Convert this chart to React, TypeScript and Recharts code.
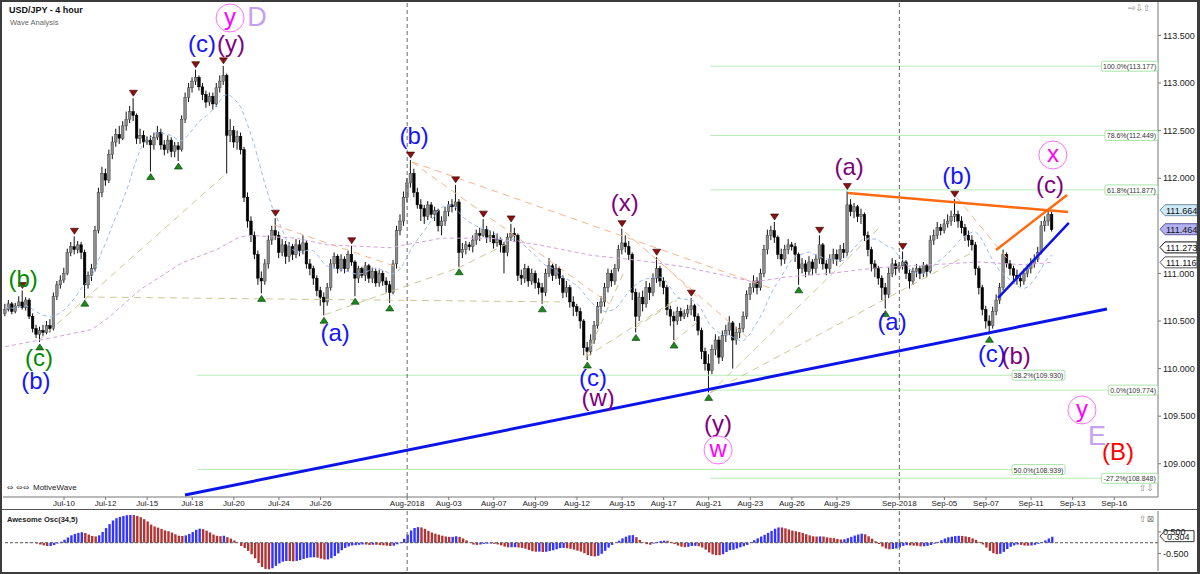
import React from "react";
import {
  ComposedChart, Bar, Line, XAxis, YAxis, ReferenceLine, ReferenceDot, Cell,
} from "recharts";

const FONT = "'Liberation Sans', Arial, sans-serif";

// USD/JPY 4h candles, Jul 5 2018 .. Sep 12 2018 (open of first bar, then close/high/low per bar)
const FIRST_OPEN = 110.58;
const CLOSE = [
  110.62, 110.68, 110.60, 110.66, 110.70, 110.64, 110.72, 110.55, 110.42, 110.36,
  110.40, 110.38, 110.45, 110.42, 110.76, 110.88, 110.93, 111.00, 111.22, 111.28,
  111.25, 111.30, 111.22, 110.88, 110.98, 111.05, 111.45, 111.85, 112.05, 111.98,
  112.25, 112.38, 112.46, 112.42, 112.55, 112.62, 112.70, 112.66, 112.42, 112.45,
  112.38, 112.40, 112.35, 112.43, 112.48, 112.35, 112.30, 112.40, 112.28, 112.34,
  112.30, 112.62, 112.85, 112.95, 113.02, 113.06, 112.96, 112.88, 112.80, 112.86,
  112.78, 112.95, 113.02, 113.08, 112.45, 112.50, 112.38, 112.44, 112.30, 111.80,
  111.55, 111.40, 111.20, 110.95, 110.92, 111.10, 111.35, 111.45, 111.40, 111.22,
  111.30, 111.18, 111.28, 111.20, 111.30, 111.24, 111.32, 111.10, 111.05, 110.95,
  110.82, 110.75, 110.70, 110.85, 111.10, 111.18, 111.05, 111.15, 111.05, 111.20,
  111.12, 110.95, 111.05, 110.98, 111.08, 110.95, 111.02, 110.90, 111.00, 110.92,
  110.88, 110.80, 111.10, 111.45, 111.55, 111.80, 111.95, 112.05, 111.85, 111.72,
  111.68, 111.60, 111.72, 111.62, 111.66, 111.50, 111.55, 111.65, 111.72, 111.70,
  111.75, 111.22, 111.25, 111.30, 111.28, 111.35, 111.42, 111.40, 111.46, 111.38,
  111.40, 111.32, 111.36, 111.30, 111.22, 111.38, 111.42, 111.40, 110.98, 110.95,
  111.05, 110.92, 111.00, 110.90, 110.85, 110.80, 111.00, 111.08, 110.98, 111.05,
  110.95, 110.80, 110.85, 110.70, 110.65, 110.60, 110.50, 110.22, 110.18, 110.30,
  110.45, 110.65, 110.70, 110.85, 111.00, 110.92, 111.05, 111.25, 111.32, 111.28,
  111.20, 110.80, 110.55, 110.75, 110.68, 110.85, 110.80, 110.95, 111.05, 110.92,
  110.85, 110.62, 110.55, 110.50, 110.60, 110.55, 110.58, 110.62, 110.66, 110.55,
  110.40, 110.18, 110.05, 109.98, 110.20, 110.30, 110.12, 110.35, 110.40, 110.48,
  110.30, 110.38, 110.42, 110.55, 110.78, 110.85, 110.92, 110.85, 111.00, 111.25,
  111.40, 111.45, 111.38, 111.20, 111.15, 111.25, 111.30, 111.28, 111.20, 111.05,
  111.10, 111.02, 111.12, 111.05, 111.15, 111.30, 111.10, 111.05, 111.15, 111.20,
  111.15, 111.25, 111.22, 111.72, 111.65, 111.70, 111.60, 111.62, 111.40, 111.25,
  111.10, 111.05, 110.95, 110.85, 110.78, 111.00, 111.10, 111.05, 111.08, 111.12,
  111.00, 110.92, 111.02, 111.05, 111.00, 111.08, 111.02, 111.35, 111.40, 111.48,
  111.45, 111.52, 111.55, 111.60, 111.62, 111.55, 111.48, 111.40, 111.35, 111.30,
  111.05, 110.85, 110.62, 110.50, 110.45, 110.60, 110.72, 110.85, 111.20, 111.10,
  111.05, 110.98, 110.95, 110.92, 111.00, 111.05, 111.10, 111.15, 111.22, 111.50,
  111.55, 111.62, 111.46,
];
const HIGH = [
  110.68, 110.72, 110.70, 110.69, 110.76, 110.82, 110.75, 110.74, 110.58, 110.46,
  110.44, 110.46, 110.50, 110.52, 110.80, 110.92, 110.98, 111.06, 111.26, 111.33,
  111.39, 111.34, 111.33, 111.25, 111.02, 111.10, 111.50, 111.90, 112.12, 112.10,
  112.30, 112.44, 112.52, 112.55, 112.60, 112.70, 112.76, 112.84, 112.68, 112.52,
  112.50, 112.44, 112.45, 112.48, 112.55, 112.52, 112.40, 112.45, 112.43, 112.38,
  112.38, 112.66, 112.90, 113.00, 113.06, 113.14, 113.08, 113.00, 112.92, 112.90,
  112.90, 113.00, 113.08, 113.18, 113.10, 112.62, 112.55, 112.50, 112.48, 112.33,
  111.85, 111.60, 111.44, 111.24, 111.02, 111.15, 111.40, 111.50, 111.58, 111.44,
  111.36, 111.34, 111.33, 111.31, 111.36, 111.35, 111.40, 111.34, 111.15, 111.08,
  110.98, 110.86, 110.80, 110.90, 111.15, 111.22, 111.20, 111.20, 111.18, 111.24,
  111.29, 111.14, 111.08, 111.07, 111.12, 111.10, 111.06, 111.05, 111.04, 111.03,
  110.96, 110.92, 111.14, 111.50, 111.62, 111.86, 112.00, 112.19, 112.10, 111.90,
  111.78, 111.72, 111.76, 111.75, 111.70, 111.68, 111.60, 111.70, 111.76, 111.78,
  111.93, 111.78, 111.32, 111.34, 111.33, 111.40, 111.46, 111.48, 111.57, 111.50,
  111.45, 111.44, 111.42, 111.38, 111.33, 111.42, 111.52, 111.48, 111.42, 111.04,
  111.10, 111.08, 111.05, 111.03, 110.95, 110.90, 111.05, 111.16, 111.10, 111.10,
  111.07, 110.98, 110.92, 110.88, 110.76, 110.68, 110.64, 110.52, 110.28, 110.36,
  110.50, 110.70, 110.76, 110.90, 111.05, 111.04, 111.10, 111.30, 111.47, 111.40,
  111.34, 111.22, 110.84, 110.80, 110.82, 110.92, 110.90, 111.00, 111.17, 111.08,
  110.96, 110.88, 110.66, 110.60, 110.65, 110.64, 110.62, 110.67, 110.74, 110.68,
  110.58, 110.43, 110.22, 110.15, 110.25, 110.36, 110.34, 110.40, 110.46, 110.55,
  110.50, 110.44, 110.48, 110.60, 110.82, 110.90, 110.98, 110.96, 111.05, 111.30,
  111.46, 111.50, 111.54, 111.40, 111.26, 111.30, 111.36, 111.33, 111.32, 111.22,
  111.16, 111.14, 111.18, 111.15, 111.20, 111.40, 111.32, 111.14, 111.20, 111.26,
  111.25, 111.30, 111.32, 111.86, 111.78, 111.74, 111.72, 111.68, 111.64, 111.44,
  111.28, 111.14, 111.08, 110.98, 110.90, 111.06, 111.16, 111.14, 111.12, 111.23,
  111.14, 111.04, 111.06, 111.10, 111.08, 111.12, 111.10, 111.40, 111.46, 111.54,
  111.52, 111.57, 111.62, 111.66, 111.78, 111.66, 111.60, 111.52, 111.45, 111.40,
  111.33, 111.08, 110.88, 110.66, 110.56, 110.65, 110.78, 110.90, 111.25, 111.22,
  111.14, 111.08, 111.04, 111.00, 111.05, 111.10, 111.16, 111.20, 111.28, 111.55,
  111.60, 111.66, 111.65,
];
const LOW = [
  110.55, 110.60, 110.57, 110.58, 110.64, 110.62, 110.61, 110.52, 110.38, 110.32,
  110.28, 110.34, 110.36, 110.38, 110.40, 110.72, 110.84, 110.90, 110.98, 111.18,
  111.20, 111.21, 111.15, 110.74, 110.84, 110.92, 111.02, 111.42, 111.80, 111.92,
  111.95, 112.20, 112.33, 112.36, 112.40, 112.50, 112.58, 112.60, 112.36, 112.36,
  112.32, 112.35, 112.07, 112.30, 112.40, 112.30, 112.24, 112.26, 112.22, 112.22,
  112.18, 112.28, 112.58, 112.80, 112.90, 112.98, 112.92, 112.82, 112.74, 112.76,
  112.72, 112.75, 112.90, 112.98, 112.05, 112.38, 112.32, 112.30, 112.25, 111.75,
  111.48, 111.33, 111.15, 110.88, 110.79, 110.88, 111.05, 111.30, 111.35, 111.16,
  111.18, 111.10, 111.12, 111.14, 111.16, 111.18, 111.20, 111.05, 110.98, 110.88,
  110.76, 110.66, 110.56, 110.66, 110.82, 111.05, 111.00, 111.02, 111.00, 111.02,
  111.08, 110.76, 110.90, 110.95, 110.92, 110.90, 110.90, 110.86, 110.86, 110.87,
  110.80, 110.69, 110.78, 111.05, 111.40, 111.50, 111.75, 111.90, 111.80, 111.68,
  111.55, 111.52, 111.56, 111.58, 111.55, 111.44, 111.40, 111.50, 111.60, 111.64,
  111.66, 111.07, 111.16, 111.20, 111.24, 111.22, 111.30, 111.34, 111.38, 111.32,
  111.33, 111.26, 111.28, 111.22, 111.00, 111.18, 111.34, 111.33, 110.92, 110.88,
  110.90, 110.86, 110.88, 110.84, 110.78, 110.68, 110.76, 110.96, 110.92, 110.94,
  110.88, 110.74, 110.75, 110.64, 110.55, 110.55, 110.42, 110.14, 110.09, 110.14,
  110.26, 110.42, 110.58, 110.65, 110.80, 110.86, 110.88, 111.02, 111.20, 111.22,
  111.14, 110.72, 110.38, 110.50, 110.60, 110.64, 110.72, 110.76, 110.90, 110.86,
  110.78, 110.56, 110.45, 110.30, 110.46, 110.50, 110.52, 110.54, 110.56, 110.50,
  110.35, 110.10, 109.98, 109.75, 109.94, 110.14, 110.05, 110.08, 110.28, 110.35,
  110.00, 110.25, 110.32, 110.38, 110.52, 110.72, 110.80, 110.78, 110.82, 110.96,
  111.20, 111.35, 111.32, 111.15, 111.08, 111.10, 111.20, 111.24, 111.12, 110.88,
  111.00, 110.96, 110.98, 110.98, 111.00, 111.10, 111.04, 110.98, 111.00, 111.10,
  111.08, 111.12, 111.16, 111.18, 111.60, 111.58, 111.54, 111.52, 111.34, 111.18,
  111.02, 110.96, 110.88, 110.72, 110.63, 110.74, 110.96, 110.98, 111.02, 111.04,
  110.94, 110.84, 110.88, 110.96, 110.94, 110.96, 110.96, 111.00, 111.30, 111.36,
  111.40, 111.42, 111.48, 111.50, 111.54, 111.48, 111.42, 111.34, 111.28, 111.24,
  110.98, 110.78, 110.56, 110.42, 110.36, 110.42, 110.56, 110.68, 110.82, 111.06,
  110.98, 110.92, 110.88, 110.86, 110.88, 110.96, 111.00, 111.06, 111.12, 111.20,
  111.44, 111.50, 111.44,
];

// date axis (bar index of first 4h bar of the day)
const TICK_IDX = [17, 29, 41, 54, 66, 79, 91, 116, 128, 141, 153, 165, 178, 190, 203, 215, 227, 240, 258, 271, 283, 296, 308, 320];
const TICK_LABELS = ["Jul-10", "Jul-12", "Jul-15", "Jul-18", "Jul-20", "Jul-24", "Jul-26", "Aug-2018", "Aug-03", "Aug-07", "Aug-09", "Aug-12", "Aug-15", "Aug-17", "Aug-21", "Aug-23", "Aug-26", "Aug-29", "Sep-2018", "Sep-05", "Sep-07", "Sep-11", "Sep-13", "Sep-16"];
const MONTH_LINES = [116, 258];
const PRICE_LABELS = [109, 109.5, 110, 110.5, 111, 112, 112.5, 113, 113.5];

// slow moving average (purple)
const SLOW_MA_IDX = [0, 13, 25, 30, 39, 51, 61, 67, 70, 84, 93, 111, 126, 140, 154, 169, 182, 196, 211, 216, 225, 238, 252, 267, 281, 294, 302];
const SLOW_MA = [110.23, 110.32, 110.41, 110.54, 110.83, 111.11, 111.25, 111.37, 111.40, 111.37, 111.30, 111.27, 111.37, 111.37, 111.30, 111.19, 111.14, 111.07, 110.95, 110.91, 110.96, 111.00, 111.06, 111.09, 111.12, 111.09, 111.116];

const SWING_HIGHS = [5, 20, 37, 55, 63, 78, 100, 117, 130, 138, 146, 178, 188, 198, 222, 235, 243, 259, 274];
const SWING_LOWS = [10, 23, 42, 50, 74, 92, 101, 111, 131, 155, 168, 182, 193, 203, 229, 254, 284];

const BLUE = "#1414ff";
const PURPLE = "#800080";
const GREEN = "#008a00";
const MAGENTA = "#ff00ff";
const LAVENDER = "#c8a0f0";

const WAVE_LABELS: [string, number, number, string][] = [
  ["(b)", 5.2, 110.95, GREEN],
  ["(c)", 9.8, 110.12, GREEN],
  ["(b)", 8.9, 109.87, BLUE],
  ["(c)", 56.8, 113.41, BLUE],
  ["(y)", 65.2, 113.41, PURPLE],
  ["(a)", 95.2, 110.38, BLUE],
  ["(b)", 118.0, 112.45, BLUE],
  ["(x)", 178.8, 111.74, PURPLE],
  ["(c)", 169.6, 109.91, BLUE],
  ["(w)", 171.1, 109.70, PURPLE],
  ["(y)", 205.7, 109.42, PURPLE],
  ["(a)", 243.5, 112.12, PURPLE],
  ["(a)", 255.9, 110.49, BLUE],
  ["(b)", 274.6, 112.03, BLUE],
  ["(c)", 301.5, 111.93, PURPLE],
  ["(c)", 284.7, 110.16, BLUE],
  ["(b)", 291.7, 110.14, PURPLE],
  ["(B)", 321.1, 109.13, "#ff0000"],
];
const CIRCLED: [string, number, number][] = [
  ["y", 64.9, 113.683],
  ["w", 205.7, 109.145],
  ["x", 302.3, 112.244],
  ["y", 310.7, 109.565],
];
const DEGREE: [string, number, number][] = [
  ["D", 72.7, 113.69],
  ["E", 315.0, 109.29],
];

// fib levels: label, price, line start, line end (bar index)
const FIBS: [string, number, number, number][] = [
  ["100.0%(113.177)", 113.177, 203.4, 332.6],
  ["78.6%(112.449)", 112.449, 203.4, 332.6],
  ["61.8%(111.877)", 111.877, 203.4, 332.6],
  ["38.2%(109.930)", 109.93, 55.4, 305.8],
  ["0.0%(109.774)", 109.774, 203.4, 332.6],
  ["50.0%(108.939)", 108.939, 55.4, 305.8],
  ["-27.2%(108.848)", 108.848, 203.4, 332.6],
];

// [x1, y1, x2, y2]
const TAN_LINES = [
  [9.8, 110.30, 64.3, 112.065],
  [23.3, 110.752, 160.1, 110.70],
  [92.0, 110.563, 130.7, 111.057],
  [130.7, 111.057, 144.8, 111.31],
  [167.6, 110.122, 178.8, 111.036],
  [167.6, 110.122, 194.7, 110.752],
  [181.7, 110.426, 193.8, 110.72],
  [192.7, 110.279, 201.1, 110.53],
  [203.4, 109.744, 252.4, 111.487],
  [203.4, 109.744, 279.3, 111.225],
];
const ORANGE_DASH = [
  [117.4, 112.17, 220.7, 110.847],
  [117.4, 112.17, 174.5, 110.679],
  [178.8, 111.435, 214.0, 110.332],
  [274.5, 111.80, 289.9, 111.12],
  [77.6, 111.51, 113.9, 111.057],
  [188.1, 111.16, 200.5, 110.72],
];
const TRENDS: [number, number, number, number, string, number][] = [
  [51.9, 108.672, 317.9, 110.626, "#0c14e8", 3],
  [243.2, 111.845, 306.7, 111.645, "#ff6a10", 2.5],
  [285.9, 111.246, 306.4, 111.824, "#ff6a10", 2.5],
  [286.5, 110.742, 306.9, 111.53, "#0c14e8", 2.5],
];

const PRICE_TAGS: [number, string, string][] = [
  [111.664, "#cfe9f6", "#6f8fa8"],
  [111.464, "#b2b2f2", "#5a5aa0"],
  [111.273, "#ffffff", "#111111"],
  [111.116, "#ffffff", "#555555"],
];
const AO_TAG = 0.304;

const X_DOMAIN: [number, number] = [-0.606, 332.63];
const Y_DOMAIN: [number, number] = [108.651, 113.851];
const AO_DOMAIN: [number, number] = [-1.31, 1.47];
const MA_LEN = 14;

const candles: any[] = CLOSE.map((c, i) => {
  const o = i === 0 ? FIRST_OPEN : CLOSE[i - 1];
  const from = Math.max(0, i - MA_LEN + 1);
  let s = 0;
  for (let k = from; k <= i; k++) s += CLOSE[k];
  return { i, o, h: HIGH[i], l: LOW[i], c, range: [LOW[i], HIGH[i]], ma: s / (i - from + 1) };
});
SLOW_MA_IDX.forEach((idx, k) => { candles[idx].slow = SLOW_MA[k]; });

const median = candles.map((d) => (d.h + d.l) / 2);
const sma = (n: number, i: number) => {
  const from = Math.max(0, i - n + 1);
  let s = 0;
  for (let k = from; k <= i; k++) s += median[k];
  return s / (i - from + 1);
};
const aoData = candles.map((d, i) => ({ i, ao: sma(5, i) - sma(34, i) }));

const Candle = (p: any) => {
  const { x, y, width, height, payload } = p;
  if (x == null || y == null) return null;
  const { o, h, l, c } = payload;
  const cx = x + width / 2;
  const span = h - l || 1e-6;
  const py = (v: number) => y + ((h - v) / span) * height;
  const top = py(Math.max(o, c));
  const bot = py(Math.min(o, c));
  const up = c >= o;
  return (
    <g>
      <line x1={cx} x2={cx} y1={y} y2={y + height} stroke="#111" strokeWidth={1} />
      <rect x={cx - 1.3} y={top} width={2.6} height={Math.max(1, bot - top)}
        fill={up ? "#8c8c8c" : "#000"} stroke={up ? "#444" : "#000"} strokeWidth={0.5} />
    </g>
  );
};

const txt = { fontFamily: FONT } as const;

export default function App() {
  return (
    <div style={{ position: "absolute", left: 0, top: 0, width: 1200, height: 574, background: "#fff", overflow: "hidden", fontFamily: FONT }}>
      <div style={{ position: "absolute", left: 0, top: 0 }}>
        <ComposedChart width={1200} height={509} data={candles} margin={{ top: 2, right: 3, left: 3, bottom: 0 }}>
          <XAxis dataKey="i" type="number" domain={X_DOMAIN} allowDataOverflow ticks={TICK_IDX} interval={0}
            tickFormatter={(v: number) => TICK_LABELS[TICK_IDX.indexOf(v)] ?? ""} height={12} tickSize={3} tickMargin={0}
            tick={{ fontSize: 8, fill: "#222", fontFamily: FONT }} stroke="#777" />
          <YAxis orientation="right" type="number" domain={Y_DOMAIN} allowDataOverflow width={39}
            ticks={PRICE_LABELS} interval={0} tickFormatter={(v: number) => v.toFixed(3)} tickSize={3} tickMargin={2}
            tick={{ fontSize: 9, fill: "#222", fontFamily: FONT }} stroke="#777" />

          {FIBS.map(([t, p, a, b], k) => (
            <ReferenceLine key={`f${k}`} segment={[{ x: a, y: p }, { x: b, y: p }]} stroke="#b8ecb8" strokeWidth={1} />
          ))}
          {MONTH_LINES.map((m) => (
            <ReferenceLine key={`m${m}`} x={m} stroke="#666" strokeDasharray="4 3" />
          ))}
          {TAN_LINES.map(([a, b, c, d], k) => (
            <ReferenceLine key={`t${k}`} segment={[{ x: a, y: b }, { x: c, y: d }]} stroke="#cfc796" strokeDasharray="7 5" />
          ))}
          {ORANGE_DASH.map(([a, b, c, d], k) => (
            <ReferenceLine key={`o${k}`} segment={[{ x: a, y: b }, { x: c, y: d }]} stroke="#f8b48a" strokeDasharray="7 5" />
          ))}

          <Line dataKey="slow" stroke="#d79ee0" strokeDasharray="4 3" dot={false} connectNulls isAnimationActive={false} strokeWidth={1} />
          <Line dataKey="ma" stroke="#9db8f4" strokeDasharray="4 3" dot={false} isAnimationActive={false} strokeWidth={1} />
          <Bar dataKey="range" barSize={3} shape={Candle} isAnimationActive={false} />

          {TRENDS.map(([a, b, c, d, col, w], k) => (
            <ReferenceLine key={`tr${k}`} segment={[{ x: a, y: b }, { x: c, y: d }]} stroke={col} strokeWidth={w} />
          ))}

          {SWING_HIGHS.map((i) => (
            <ReferenceDot key={`sh${i}`} x={i} y={HIGH[i]} r={0} shape={(p: any) => (
              <polygon points={`${p.cx - 4},${p.cy - 8} ${p.cx + 4},${p.cy - 8} ${p.cx},${p.cy - 2}`} fill="#8b1010" stroke="#300" strokeWidth={0.6} />
            )} />
          ))}
          {SWING_LOWS.map((i) => (
            <ReferenceDot key={`sl${i}`} x={i} y={LOW[i]} r={0} shape={(p: any) => (
              <polygon points={`${p.cx - 4},${p.cy + 8} ${p.cx + 4},${p.cy + 8} ${p.cx},${p.cy + 2}`} fill="#1a8a1a" stroke="#030" strokeWidth={0.6} />
            )} />
          ))}

          {FIBS.map(([t, p, a, b], k) => (
            <ReferenceDot key={`fl${k}`} x={b} y={p} r={0} ifOverflow="visible" shape={(q: any) => {
              const w = t.length * 3.5 + 4;
              return (
                <g>
                  <rect x={q.cx - w} y={q.cy - 5} width={w} height={10} rx={2} fill="#fff" stroke="#a8e4a8" />
                  <text x={q.cx - w / 2} y={q.cy + 0.5} textAnchor="middle" dominantBaseline="central" fontSize={7} fill="#333" style={txt}>{t}</text>
                </g>
              );
            }} />
          ))}

          {WAVE_LABELS.map(([t, x, y, col], k) => (
            <ReferenceDot key={`w${k}`} x={x} y={y} r={0} ifOverflow="visible" shape={(p: any) => (
              <text x={p.cx} y={p.cy} textAnchor="middle" dominantBaseline="central" fontSize={24} fill={col} style={txt}>{t}</text>
            )} />
          ))}
          {CIRCLED.map(([t, x, y], k) => (
            <ReferenceDot key={`c${k}`} x={x} y={y} r={0} ifOverflow="visible" shape={(p: any) => (
              <g>
                <circle cx={p.cx} cy={p.cy} r={14} fill="none" stroke="#ff70ff" strokeWidth={1} />
                <text x={p.cx} y={p.cy - 1} textAnchor="middle" dominantBaseline="central" fontSize={24} fill={MAGENTA} style={txt}>{t}</text>
              </g>
            )} />
          ))}
          {DEGREE.map(([t, x, y], k) => (
            <ReferenceDot key={`d${k}`} x={x} y={y} r={0} ifOverflow="visible" shape={(p: any) => (
              <text x={p.cx} y={p.cy} textAnchor="middle" dominantBaseline="central" fontSize={27} fill={LAVENDER} style={txt}>{t}</text>
            )} />
          ))}

          {PRICE_TAGS.map(([v, fill, stroke], k) => (
            <ReferenceDot key={`pt${k}`} x={X_DOMAIN[1]} y={v} r={0} ifOverflow="visible" shape={(p: any) => (
              <g>
                <path d={`M${p.cx + 2},${p.cy} L${p.cx + 7},${p.cy - 5.5} L${p.cx + 39},${p.cy - 5.5} L${p.cx + 39},${p.cy + 5.5} L${p.cx + 7},${p.cy + 5.5} Z`}
                  fill={fill} stroke={stroke} strokeWidth={1} />
                <text x={p.cx + 8} y={p.cy + 0.5} dominantBaseline="central" fontSize={9} fill="#111" style={txt}>{v.toFixed(3)}</text>
              </g>
            )} />
          ))}
        </ComposedChart>
      </div>

      <div style={{ position: "absolute", left: 0, top: 509 }}>
        <ComposedChart width={1200} height={65} data={aoData} margin={{ top: 2, right: 3, left: 3, bottom: 3 }}>
          <XAxis dataKey="i" type="number" domain={X_DOMAIN} allowDataOverflow hide />
          <YAxis orientation="right" type="number" domain={AO_DOMAIN} allowDataOverflow width={39}
            ticks={[0.5, -0.5]} interval={0} tickFormatter={(v: number) => v.toFixed(3)} tickSize={3} tickMargin={2}
            tick={{ fontSize: 9, fill: "#222", fontFamily: FONT }} stroke="#777" />
          {MONTH_LINES.map((m) => (
            <ReferenceLine key={`am${m}`} x={m} stroke="#666" strokeDasharray="4 3" />
          ))}
          <Bar dataKey="ao" barSize={2.4} isAnimationActive={false}>
            {aoData.map((d, i) => (
              <Cell key={i} fill={i === 0 || d.ao >= aoData[i - 1].ao ? "#3434ff" : "#b03434"} />
            ))}
          </Bar>
          <ReferenceLine y={0} stroke="#555" strokeDasharray="3 2" />
          <ReferenceDot x={X_DOMAIN[1]} y={AO_TAG} r={0} ifOverflow="visible" shape={(p: any) => (
            <g>
              <path d={`M${p.cx + 2},${p.cy} L${p.cx + 7},${p.cy - 5.5} L${p.cx + 36},${p.cy - 5.5} L${p.cx + 36},${p.cy + 5.5} L${p.cx + 7},${p.cy + 5.5} Z`}
                fill="#fff" stroke="#333" strokeWidth={1} />
              <text x={p.cx + 9} y={p.cy + 0.5} dominantBaseline="central" fontSize={9} fill="#111" style={txt}>{AO_TAG.toFixed(3)}</text>
            </g>
          )} />
        </ComposedChart>
      </div>

      {/* header / panel captions */}
      <div style={{ position: "absolute", left: 9, top: 5, fontSize: 9, fontWeight: "bold", color: "#111" }}>USD/JPY - 4 hour</div>
      <div style={{ position: "absolute", left: 10, top: 18, fontSize: 7.5, color: "#666" }}>Wave Analysis</div>
      <div style={{ position: "absolute", left: 7, top: 483, fontSize: 8, color: "#555", fontFamily: "'DejaVu Sans', sans-serif" }}>⇔ ⇔⇔</div>
      <div style={{ position: "absolute", left: 33, top: 483, fontSize: 8, color: "#222" }}>MotiveWave</div>
      <div style={{ position: "absolute", left: 7, top: 515, fontSize: 7.5, fontWeight: "bold", color: "#222" }}>Awesome Osc(34,5)</div>
      <div style={{ position: "absolute", left: 1128, top: 3, fontSize: 9, color: "#888", fontFamily: "'DejaVu Sans', sans-serif" }}>⇨⇩⇧</div>
      <div style={{ position: "absolute", left: 1139, top: 483, fontSize: 9, color: "#888", fontFamily: "'DejaVu Sans', sans-serif" }}>⇧⇩</div>
      <div style={{ position: "absolute", left: 1139, top: 514, fontSize: 9, color: "#888", fontFamily: "'DejaVu Sans', sans-serif" }}>⇧⊠</div>

      {/* frame */}
      <div style={{ position: "absolute", left: 0, top: 509, width: 1200, height: 1, background: "#555" }} />
      <div style={{ position: "absolute", left: 0, top: 0, width: 1200, height: 2, background: "#3c3c3c" }} />
      <div style={{ position: "absolute", left: 0, top: 0, width: 2, height: 574, background: "#3c3c3c" }} />
      <div style={{ position: "absolute", left: 1197, top: 0, width: 3, height: 574, background: "#3c3c3c" }} />
      <div style={{ position: "absolute", left: 0, top: 572, width: 1200, height: 2, background: "#3c3c3c" }} />
    </div>
  );
}
